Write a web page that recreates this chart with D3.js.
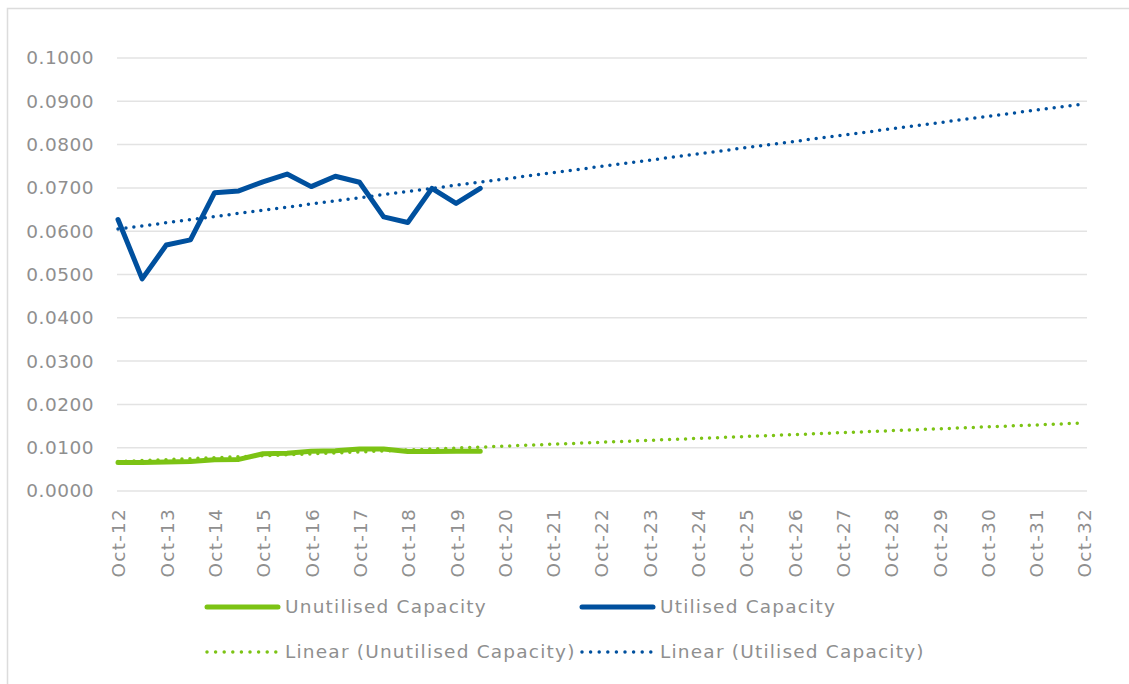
<!DOCTYPE html>
<html>
<head>
<meta charset="utf-8">
<script src="https://cdn.jsdelivr.net/npm/d3@7"></script>
<style>
  body { margin: 0; background: #fff; }
  svg text { font-family: "DejaVu Sans", sans-serif; fill: #8f8f8f; letter-spacing: 1.2px; }
  svg .ylab text { letter-spacing: 0.5px; }
</style>
</head>
<body>
<svg width="1129" height="684"></svg>
<script>
// half-yearly observations, Oct-12 .. Apr-20
var periods = d3.range(0, 16);
var utilised = [0.0627, 0.0490, 0.0568, 0.0580, 0.0689, 0.0693, 0.0714, 0.0732,
                0.0703, 0.0727, 0.0713, 0.0633, 0.0620, 0.0699, 0.0664, 0.0699];
var unutilised = [0.0066, 0.0066, 0.0067, 0.0068, 0.0072, 0.0073, 0.0086, 0.0087,
                  0.0092, 0.0093, 0.0097, 0.0097, 0.0091, 0.0091, 0.0092, 0.0092];
// linear trend, start (Oct-12) and end (Oct-32) as drawn
var trendPeriods = [0, 40];
var trendUtilised = [0.0605, 0.0894];
var trendUnutilised = [0.0068, 0.0157];
var yTicks = [0, 0.01, 0.02, 0.03, 0.04, 0.05, 0.06, 0.07, 0.08, 0.09, 0.1];
var xLabels = d3.range(12, 33).map(function(y) { return "Oct-" + y; });

var blue = "#00509e", green = "#7cc314", grid = "#e3e3e3";

var svg = d3.select("svg");

// chart frame
svg.append("path")
    .attr("d", "M7.5,690 V8.5 H1135")
    .attr("fill", "none")
    .attr("stroke", "#dcdcdc")
    .attr("stroke-width", 1.5);

var x = d3.scaleLinear().domain([0, 40]).range([118, 1084]);
var y = d3.scaleLinear().domain([0, 0.1]).range([491, 58]);

// gridlines
svg.append("g").selectAll("line")
    .data(yTicks)
    .join("line")
    .attr("x1", 117).attr("x2", 1087)
    .attr("y1", function(d) { return y(d); })
    .attr("y2", function(d) { return y(d); })
    .attr("stroke", grid)
    .attr("stroke-width", 1.5);

// y labels
svg.append("g").attr("class", "ylab").selectAll("text")
    .data(yTicks)
    .join("text")
    .attr("x", 94)
    .attr("y", function(d) { return y(d); })
    .attr("dy", "0.35em")
    .attr("text-anchor", "end")
    .attr("font-size", 18.5)
    .text(function(d) { return d3.format(".4f")(d); });

// x labels (rotated)
svg.append("g").selectAll("text")
    .data(xLabels)
    .join("text")
    .attr("transform", function(d, i) { return "translate(" + (x(i * 2) + 1) + ",508) rotate(-90)"; })
    .attr("dy", "0.35em")
    .attr("text-anchor", "end")
    .attr("font-size", 18.5)
    .text(function(d) { return d; });

var line = d3.line()
    .x(function(d) { return x(d[0]); })
    .y(function(d) { return y(d[1]); });

function trend(vals, color) {
    svg.append("path")
        .datum(d3.zip(trendPeriods, vals))
        .attr("d", line)
        .attr("fill", "none")
        .attr("stroke", color)
        .attr("stroke-width", 3.5)
        .attr("stroke-linecap", "round")
        .attr("stroke-dasharray", "0 8");
}

function series(vals, color) {
    svg.append("path")
        .datum(d3.zip(periods, vals))
        .attr("d", line)
        .attr("fill", "none")
        .attr("stroke", color)
        .attr("stroke-width", 5)
        .attr("stroke-linejoin", "round")
        .attr("stroke-linecap", "round");
}

series(unutilised, green);
series(utilised, blue);
trend(trendUnutilised, green);
trend(trendUtilised, blue);

// legend
var legend = [
    { label: "Unutilised Capacity", color: green, dotted: false, x: 207, y: 607 },
    { label: "Utilised Capacity", color: blue, dotted: false, x: 582, y: 607 },
    { label: "Linear (Unutilised Capacity)", color: green, dotted: true, x: 207, y: 652 },
    { label: "Linear (Utilised Capacity)", color: blue, dotted: true, x: 582, y: 652 }
];

var lg = svg.append("g").selectAll("g")
    .data(legend)
    .join("g")
    .attr("transform", function(d) { return "translate(" + d.x + "," + d.y + ")"; });

lg.append("line")
    .attr("x1", 0).attr("x2", 71)
    .attr("stroke", function(d) { return d.color; })
    .attr("stroke-width", function(d) { return d.dotted ? 3.5 : 5; })
    .attr("stroke-linecap", "round")
    .attr("stroke-dasharray", function(d) { return d.dotted ? "0 8.6" : null; });

lg.append("text")
    .attr("x", 78)
    .attr("dy", "0.35em")
    .attr("font-size", 18.5)
    .text(function(d) { return d.label; });
</script>
</body>
</html>
